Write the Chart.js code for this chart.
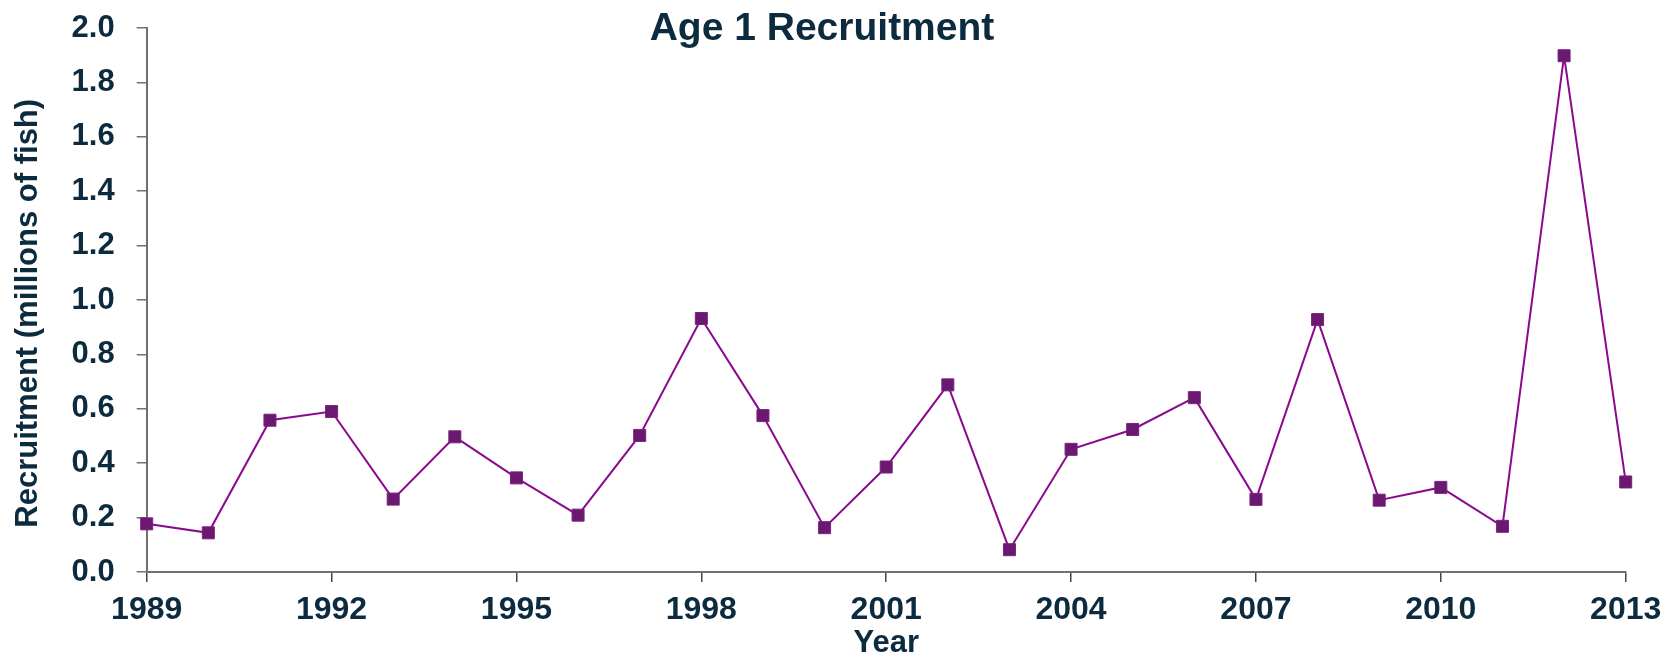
<!DOCTYPE html>
<html>
<head>
<meta charset="utf-8">
<script src="https://cdn.jsdelivr.net/npm/chart.js@4.4.1/dist/chart.umd.min.js"></script>
<style>
  html, body { margin: 0; padding: 0; background: #ffffff; }
  #wrap { position: relative; width: 1679px; height: 658px; }
</style>
</head>
<body>
<div id="wrap"><canvas id="c"></canvas></div>
<script>
// ---- data ----
const chartTitle = 'Age 1 Recruitment';
const xAxisTitle = 'Year';
const yAxisTitle = 'Recruitment (millions of fish)';
const years = [1989, 1990, 1991, 1992, 1993, 1994, 1995, 1996, 1997, 1998, 1999, 2000, 2001,
               2002, 2003, 2004, 2005, 2006, 2007, 2008, 2009, 2010, 2011, 2012, 2013];
const recruitment = [0.177, 0.144, 0.558, 0.590, 0.268, 0.497, 0.346, 0.209, 0.502, 0.932, 0.575, 0.163, 0.386,
                     0.688, 0.082, 0.451, 0.524, 0.641, 0.267, 0.928, 0.264, 0.311, 0.168, 1.898, 0.331];
const xTickYears = [1989, 1992, 1995, 1998, 2001, 2004, 2007, 2010, 2013];
const yTickValues = [0.0, 0.2, 0.4, 0.6, 0.8, 1.0, 1.2, 1.4, 1.6, 1.8, 2.0];

const textColor = '#0c2b3f';
const fontFamily = '"Liberation Sans", Arial, Helvetica, sans-serif';

const points = years.map((y, i) => ({ x: y, y: recruitment[i] }));

// chart title and the rotated y-axis title, drawn as canvas text
const titlePlugin = {
  id: 'freeTitles',
  afterDraw(chart) {
    const ctx = chart.ctx;
    ctx.save();
    ctx.fillStyle = textColor;
    ctx.font = 'bold 39px ' + fontFamily;
    ctx.textAlign = 'center';
    ctx.textBaseline = 'alphabetic';
    ctx.fillText(chartTitle, 822, 40);

    ctx.font = 'bold 31px ' + fontFamily;
    ctx.translate(37, 313.3);
    ctx.rotate(-Math.PI / 2);
    ctx.textAlign = 'center';
    ctx.textBaseline = 'alphabetic';
    ctx.fillText(yAxisTitle, 0, 0);
    ctx.restore();
  }
};

new Chart(document.getElementById('c'), {
  type: 'line',
  data: {
    datasets: [{
      label: yAxisTitle,
      data: points,
      clip: false,
      borderColor: '#8a0a8f',
      borderWidth: 2,
      pointStyle: 'rect',
      pointRadius: 8.5,
      pointHoverRadius: 8.5,
      pointBackgroundColor: '#6a1870',
      pointBorderColor: '#7a2480',
      pointBorderWidth: 1,
      tension: 0,
      fill: false
    }]
  },
  options: {
    responsive: true,
    maintainAspectRatio: false,
    animation: false,
    layout: { padding: { top: 28, right: 53.3, bottom: 0, left: 0 } },
    plugins: {
      legend: { display: false },
      tooltip: { enabled: false },
      title: { display: false }
    },
    scales: {
      x: {
        type: 'linear',
        min: years[0],
        max: years[years.length - 1],
        afterBuildTicks(scale) { scale.ticks = xTickYears.map(v => ({ value: v })); },
        afterFit(scale) { scale.height = 86; scale.paddingLeft = 0; scale.paddingRight = 0; },
        grid: { drawOnChartArea: false, drawTicks: true, tickLength: 10, color: '#444', lineWidth: 1.5 },
        border: { display: true, color: '#707070', width: 2 },
        ticks: {
          color: textColor,
          font: { family: fontFamily, size: 32, weight: 'bold' },
          padding: 9,
          maxRotation: 0,
          autoSkip: false,
          callback: (v) => String(v)
        },
        title: {
          display: true,
          text: xAxisTitle,
          color: textColor,
          font: { family: fontFamily, size: 31, weight: 'bold', lineHeight: 1 },
          padding: { top: 0, bottom: -1 }
        }
      },
      y: {
        type: 'linear',
        min: 0,
        max: 2,
        afterBuildTicks(scale) { scale.ticks = yTickValues.map(v => ({ value: v })); },
        afterFit(scale) { scale.width = 146.7; scale.paddingTop = 0; scale.paddingBottom = 0; },
        grid: { drawOnChartArea: false, drawTicks: true, tickLength: 10, color: '#707070', lineWidth: 1.5 },
        border: { display: true, color: '#707070', width: 2 },
        ticks: {
          color: textColor,
          font: { family: fontFamily, size: 31, weight: 'bold' },
          padding: 22,
          autoSkip: false,
          callback: (v) => Number(v).toFixed(1)
        },
        title: { display: false }
      }
    }
  },
  plugins: [titlePlugin]
});
</script>
</body>
</html>
